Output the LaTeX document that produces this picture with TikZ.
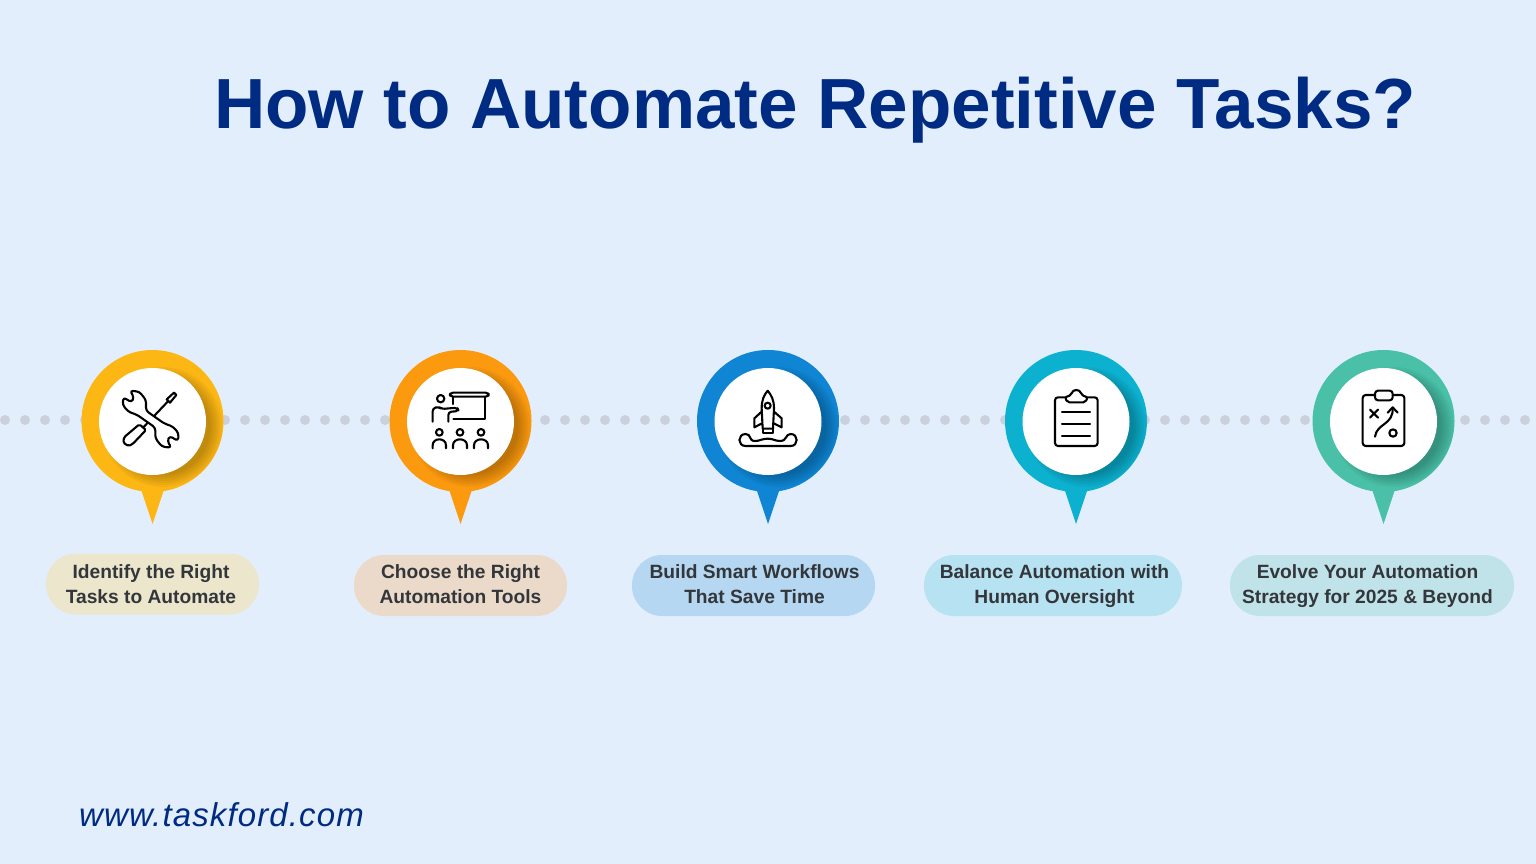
\documentclass[tikz,border=0pt]{standalone}
\usepackage{fontspec}
\usepackage{xcolor}
\usetikzlibrary{calc, positioning}
\setmainfont{Liberation Sans}
\newfontfamily\sitefont[LetterSpace=3.4]{Liberation Sans}

\definecolor{bgblue}{HTML}{E3EEFD}
\definecolor{dotgray}{HTML}{CBD0DD}
\definecolor{titleblue}{HTML}{002B82}
\definecolor{textgray}{HTML}{33363A}
\definecolor{pinyellow}{HTML}{FDB714}
\definecolor{pinorange}{HTML}{FB9A0F}
\definecolor{pinblue}{HTML}{0F85D3}
\definecolor{pincyan}{HTML}{0DB1D0}
\definecolor{pingreen}{HTML}{49C0A7}
\definecolor{pillyellow}{HTML}{ECE6CC}
\definecolor{pillorange}{HTML}{EBDAC9}
\definecolor{pillblue}{HTML}{B5D7F2}
\definecolor{pillcyan}{HTML}{B7E2F1}
\definecolor{pillgreen}{HTML}{C0E3EA}

\tikzset{
    ringnode/.style={circle, minimum size=142pt, inner sep=0pt, outer sep=0pt},
    discnode/.style={circle, fill=white, minimum size=107pt, inner sep=0pt, outer sep=0pt},
    pillnode/.style={rounded corners=30pt, minimum height=61pt, inner sep=0pt},
    steptext/.style={align=center, anchor=base, text=textgray, font=\bfseries\fontsize{19.2}{25}\selectfont},
    iconline/.style={draw=black, line width=2.1pt, line cap=round, line join=round},
    dotline/.style={dotgray, line width=10pt, line cap=round, dash pattern=on 0.01pt off 19.99pt}
}

% ring, tail and inner shadow of one marker
\newcommand{\pinbody}[3]{
    \node[ringnode, fill=#2] (ring#1) at (#3, 421) {};
    \fill[#2] ($(ring#1) + (-12, 67)$) -- ($(ring#1) + (0, 103)$) -- ($(ring#1) + (12, 67)$) -- cycle;
    \begin{scope}
        \clip (#3, 421) circle (71);
        \foreach \r in {48, 50, ..., 60} {
            \fill[black, opacity=0.035] (#3 + 10, 421 + 6) circle (\r);
        }
    \end{scope}
    \node[discnode] (disc#1) at (#3, 421.5) {};
}

\begin{document}
\begin{tikzpicture}[x=1pt, y=-1pt]
    \useasboundingbox (0, 0) rectangle (1536, 864);
    \fill[bgblue] (0, 0) rectangle (1536, 864);

    \node[text=titleblue, font=\bfseries\fontsize{71}{71}\selectfont] (title) at (815, 110) {How to Automate Repetitive Tasks?};

    \coordinate (dotstart) at (5, 420);
    \coordinate (dotend) at (1525.5, 420);
    \draw[dotline] (dotstart) -- (dotend);

    \pinbody{1}{pinyellow}{152.5}
    \pinbody{2}{pinorange}{460.5}
    \pinbody{3}{pinblue}{768}
    \pinbody{4}{pincyan}{1076}
    \pinbody{5}{pingreen}{1383.5}

    % tools
    \begin{scope}[shift={(60, 340)}, scale=1/3]
        \draw[iconline, rounded corners=1.5pt] (238, 253) -- (192, 292) -- (190, 308) -- (205, 318) -- (218, 312) -- (258, 270) -- cycle;
        \draw[iconline] (250, 262) -- (324, 184);
        \draw[iconline] (320, 178) -- (342, 158) -- (349, 165) -- (330, 188) -- cycle;
        \draw[iconline, fill=white, rounded corners=3pt] (258, 212) -- (258, 180) -- (238, 155) -- (210, 152) -- (222, 172) -- (215, 187) -- (190, 172) -- (188, 195) -- (205, 215) -- (232, 225) -- (286, 263) -- (286, 295) -- (306, 320) -- (334, 323) -- (322, 303) -- (329, 288) -- (354, 303) -- (356, 280) -- (339, 260) -- (312, 250) -- cycle;
    \end{scope}

    % presenter
    \begin{scope}[shift={(370, 340)}, scale=1/3]
        \draw[iconline] (212, 176) circle (11);
        \draw[iconline, rounded corners=3pt] (188, 245) -- (188, 205) -- (205, 200) -- (215, 207) -- (262, 203) -- (266, 213) -- (235, 216) -- (235, 245);
        \draw[iconline, rounded corners=3pt] (240, 158) rectangle (356, 170);
        \draw[iconline] (345, 170) -- (345, 238) -- (250, 238);
        \draw[iconline] (250, 170) -- (250, 192);
        \draw[iconline] (208, 277) circle (10);
        \draw[iconline] (270, 277) circle (10);
        \draw[iconline] (333, 277) circle (10);
        \draw[iconline] (188, 325) -- (188, 316) .. controls (188, 292) and (228, 292) .. (228, 316) -- (228, 325);
        \draw[iconline] (249, 325) -- (249, 316) .. controls (249, 292) and (291, 292) .. (291, 316) -- (291, 325);
        \draw[iconline] (312, 325) -- (312, 316) .. controls (312, 292) and (354, 292) .. (354, 316) -- (354, 325);
    \end{scope}

    % rocket
    \begin{scope}[shift={(680, 340)}, scale=1/3]
        \draw[iconline] (263, 152) .. controls (252, 165) and (245, 180) .. (245, 205) -- (248, 266) -- (279, 266) -- (282, 205) .. controls (282, 180) and (274, 165) .. cycle;
        \draw[iconline] (263, 197) circle (9);
        \draw[iconline] (245, 215) -- (223, 235) -- (223, 262) -- (246, 250);
        \draw[iconline] (282, 215) -- (305, 235) -- (305, 262) -- (281, 250);
        \draw[iconline] (249, 266) -- (249, 280) -- (278, 280) -- (278, 266);
        \draw[iconline] (197, 282) .. controls (172, 282) and (172, 318) .. (197, 318) -- (332, 318) .. controls (356, 318) and (356, 282) .. (332, 282) .. controls (315, 282) and (322, 303) .. (300, 303) .. controls (285, 303) and (280, 296) .. (263, 296) .. controls (246, 296) and (240, 303) .. (225, 303) .. controls (205, 303) and (215, 282) .. (197, 282) -- cycle;
    \end{scope}

    % checklist
    \begin{scope}[shift={(990, 340)}, scale=1/3]
        \draw[iconline, rounded corners=3pt] (195, 172) rectangle (323, 318);
        \draw[iconline, fill=white, rounded corners=2pt] (232, 187) -- (225, 172) -- (244, 165) .. controls (248, 147) and (270, 147) .. (274, 165) -- (293, 172) -- (286, 187) -- cycle;
        \draw[iconline] (216, 216) -- (300, 216);
        \draw[iconline] (216, 253) -- (300, 253);
        \draw[iconline] (216, 289) -- (300, 289);
    \end{scope}

    % strategy board
    \begin{scope}[shift={(1295, 340)}, scale=1/3]
        \draw[iconline, rounded corners=3pt] (203, 165) rectangle (328, 318);
        \draw[iconline, fill=white, rounded corners=3pt] (240, 152) rectangle (293, 181);
        \draw[iconline] (225, 209) -- (249, 233);
        \draw[iconline] (249, 209) -- (225, 233);
        \draw[iconline] (294, 279) circle (11);
        \draw[iconline] (240, 290) .. controls (245, 250) and (295, 255) .. (293, 205);
        \draw[iconline] (278, 218) -- (293, 202) -- (308, 218);
    \end{scope}

    \node[pillnode, fill=pillyellow, minimum width=213pt] (pill1) at (152.5, 584) {};
    \node[pillnode, fill=pillorange, minimum width=213pt] (pill2) at (460.5, 585.5) {};
    \node[pillnode, fill=pillblue, minimum width=243pt] (pill3) at (753.5, 585.5) {};
    \node[pillnode, fill=pillcyan, minimum width=258pt] (pill4) at (1053, 585.5) {};
    \node[pillnode, fill=pillgreen, minimum width=284pt] (pill5) at (1372, 585.5) {};

    \node[steptext] (step1) at (151, 603) {Identify the Right\\Tasks to Automate};
    \node[steptext] (step2) at (460.5, 603) {Choose the Right\\Automation Tools};
    \node[steptext] (step3) at (754.5, 603) {Build Smart Workflows\\That Save Time};
    \node[steptext] (step4) at (1054.5, 603) {Balance Automation with\\Human Oversight};
    \node[steptext] (step5) at (1367.5, 603) {Evolve Your Automation\\Strategy for 2025 \& Beyond};

    \node[text=titleblue, font=\sitefont\itshape\fontsize{33}{33}\selectfont] (website) at (221.5, 815) {www.taskford.com};
\end{tikzpicture}
\end{document}
